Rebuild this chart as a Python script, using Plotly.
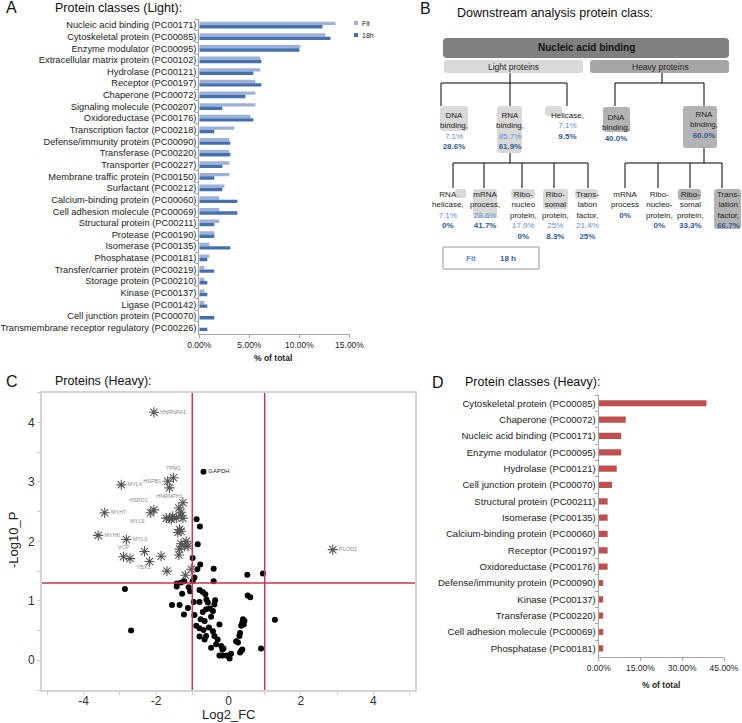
import plotly.graph_objects as go

W, H = 742, 723
def px(x): return x / W
def py(y): return 1 - y / H

FONT = "Arial, Liberation Sans, sans-serif"

# ---------------- Panel A data ----------------
classes_light = [
    "Nucleic acid binding (PC00171)", "Cytoskeletal protein (PC00085)", "Enzyme modulator (PC00095)",
    "Extracellular matrix protein (PC00102)", "Hydrolase (PC00121)", "Receptor (PC00197)",
    "Chaperone (PC00072)", "Signaling molecule (PC00207)", "Oxidoreductase (PC00176)",
    "Transcription factor (PC00218)", "Defense/immunity protein (PC00090)", "Transferase (PC00220)",
    "Transporter (PC00227)", "Membrane traffic protein (PC00150)", "Surfactant (PC00212)",
    "Calcium-binding protein (PC00060)", "Cell adhesion molecule (PC00069)", "Structural protein (PC00211)",
    "Protease (PC00190)", "Isomerase (PC00135)", "Phosphatase (PC00181)",
    "Transfer/carrier protein (PC00219)", "Storage protein (PC00210)", "Kinase (PC00137)",
    "Ligase (PC00142)", "Cell junction protein (PC00070)", "Transmembrane receptor regulatory (PC00226)",
]
fit_pct = [13.6, 12.6, 10.1, 6.1, 6.1, 5.6, 5.6, 5.6, 5.1, 3.5, 3.0, 3.0, 3.0, 3.0, 2.5,
           2.0, 2.0, 2.0, 1.5, 1.0, 1.0, 0.5, 0.5, 0.5, 0.5, 0.0, 0.0]
h18_pct = [12.3, 13.1, 10.0, 6.2, 5.4, 6.2, 4.6, 2.3, 5.4, 1.5, 3.1, 3.1, 2.3, 1.5, 2.3,
           3.8, 3.8, 1.5, 1.5, 3.1, 0.8, 1.5, 0.8, 0.8, 0.8, 1.5, 0.8]
a_ticks = [0, 5, 10, 15]
a_ticktext = ["0.00%", "5.00%", "10.00%", "15.00%"]

# ---------------- Panel B data ----------------
l2_light_labels = ["DNA<br>binding,", "RNA<br>binding,", "Helicase,"]
l2_light_fit = ["7.1%", "85.7%", "7.1%"]
l2_light_18h = ["28.6%", "61.9%", "9.5%"]
l2_heavy_labels = ["DNA<br>binding,", "RNA<br>binding,"]
l2_heavy_pct = ["40.0%", "60.0%"]
l3_light_labels = ["RNA<br>helicase,", "mRNA<br>process,", "Ribo-<br>nucleo<br>protein,",
                   "Ribo-<br>somal<br>protein,", "Trans-<br>lation<br>factor,"]
l3_light_fit = ["7.1%", "28.6%", "17.9%", "25%", "21.4%"]
l3_light_18h = ["0%", "41.7%", "0%", "8.3%", "25%"]
l3_heavy_labels = ["mRNA<br>process", "Ribo-<br>nucleo-<br>protein,", "Ribo-<br>somal<br>protein,",
                   "Trans-<br>lation<br>factor,"]
l3_heavy_pct = ["0%", "0%", "33.3%", "66.7%"]

# ---------------- Panel C data ----------------
sig_x = [-2.06, -1.52, -1.68, -1.63, -2.96, -2.06, -2.15, -3.42, -3.60, -2.82, -2.90, -2.72, 2.88,
         -1.26, -1.37, -1.31, -1.31, -1.26, -1.44, -1.54, -1.63, -1.72, -1.58, -1.35, -1.40, -1.31,
         -1.17, -1.31, -1.35, -1.21, -1.12, -1.37, -1.86, -2.32, -2.18, -1.70, -1.19, -1.03]
sig_y = [4.17, 3.07, 3.01, 2.90, 2.95, 2.53, 2.48, 2.48, 2.10, 2.03, 1.74, 1.71, 1.86,
         2.65, 2.56, 2.49, 2.43, 2.39, 2.39, 2.42, 2.39, 2.39, 2.37, 2.20, 2.15, 2.17,
         2.00, 1.96, 1.87, 1.92, 1.92, 1.77, 1.75, 1.83, 1.66, 1.50, 1.43, 1.53]
sig_labels = ["HNRNPA1", "TPM1", "HSPB1", "HNRNPH1", "MYL4", "HSPD1", "MYL9", "MYH7", "MYH6",
              "MYL3", "VCP", "YBX1", "PLOD2"]
sig_label_pos = ["middle right", "top center", "middle left", "bottom center", "middle right",
                 "top left", "bottom left", "middle right", "middle right", "middle right",
                 "top center", "bottom right", "middle right"]
ns_x = [-0.88, -0.79, -0.85, -0.99, -0.78, -0.86, -0.41, -0.41, -0.94, -0.99, -1.22, -1.31, -1.43,
        -1.43, -2.86, 0.52, 0.95, -1.10, -1.06, -1.28, -0.80, -0.71, -0.64, 0.53, 0.60, -0.96,
        -0.80, -0.61, -0.57, -0.37, -0.39, -1.56, -1.35, -1.12, -0.71, -0.62, -0.52, -0.43, -0.48,
        -0.94, -1.23, -0.77, -0.66, -0.89, -0.80, -0.69, -0.54, -0.43, -0.62, -0.80, -0.66, -0.39,
        -0.30, -0.25, -0.48, -0.34, -0.20, -0.17, -0.14, -0.25, -0.16, -0.05, 0.03, 0.07, 0.21,
        0.26, 0.32, 0.35, 0.38, 0.30, 0.32, 0.35, 0.38, 0.40, 0.42, 0.44, 0.90, 1.28, -2.69]
ns_y = [2.37, 2.25, 1.95, 1.72, 1.61, 1.53, 1.54, 1.33, 1.39, 1.33, 1.33, 1.31, 1.29,
        1.24, 1.20, 1.44, 1.46, 1.23, 1.16, 1.12, 1.18, 1.15, 1.11, 1.09, 1.06, 0.98,
        0.98, 1.02, 0.97, 1.01, 0.94, 0.93, 0.93, 0.88, 0.81, 0.86, 0.87, 0.83, 0.73,
        0.76, 0.77, 0.69, 0.66, 0.58, 0.54, 0.51, 0.55, 0.49, 0.41, 0.40, 0.35, 0.41,
        0.35, 0.60, 0.21, 0.27, 0.24, 0.18, 0.20, 0.08, 0.08, 0.08, 0.03, 0.11, 0.32,
        0.30, 0.13, 0.16, 0.18, 0.41, 0.46, 0.58, 0.63, 0.69, 0.60, 0.66, 0.20, 0.68, 0.50]
gapdh_x, gapdh_y = [-0.69], [3.17]
fc_cut = [-1, 1]
p_cut = 1.3

# ---------------- Panel D data ----------------
classes_heavy = [
    "Cytoskeletal protein (PC00085)", "Chaperone (PC00072)", "Nucleic acid binding (PC00171)",
    "Enzyme modulator (PC00095)", "Hydrolase (PC00121)", "Cell junction protein (PC00070)",
    "Structural protein (PC00211)", "Isomerase (PC00135)", "Calcium-binding protein (PC00060)",
    "Receptor (PC00197)", "Oxidoreductase (PC00176)", "Defense/immunity protein (PC00090)",
    "Kinase (PC00137)", "Transferase (PC00220)", "Cell adhesion molecule (PC00069)",
    "Phosphatase (PC00181)",
]
heavy_pct = [38.7, 9.7, 8.1, 8.1, 6.5, 4.8, 3.2, 3.2, 3.2, 3.2, 3.2, 1.6, 1.6, 1.6, 1.6, 1.6]
d_ticks = [0, 15, 30, 45]
d_ticktext = ["0.00%", "15.00%", "30.00%", "45.00%"]

# ---------------- styles ----------------
FIT_C = "#9cb0da"
H18_C = "#4470ad"
RED_BAR = "#c0504d"
LB = "#5b8ed6"
DB = "#2f5a97"

fig = go.Figure()

# Panel A
fig.add_trace(go.Bar(y=classes_light, x=fit_pct, orientation="h", name="Fit",
                     marker=dict(color=FIT_C, line=dict(width=0)), xaxis="x", yaxis="y",
                     showlegend=False))
fig.add_trace(go.Bar(y=classes_light, x=h18_pct, orientation="h", name="18h",
                     marker=dict(color=H18_C, line=dict(width=0)), xaxis="x", yaxis="y",
                     showlegend=False))

# Panel C
sig_text = sig_labels + [""] * (len(sig_x) - len(sig_labels))
sig_pos = sig_label_pos + ["middle right"] * (len(sig_x) - len(sig_labels))
fig.add_trace(go.Scatter(x=ns_x, y=ns_y, mode="markers", xaxis="x2", yaxis="y2",
                         marker=dict(symbol="circle", size=6, color="black"), showlegend=False))
fig.add_trace(go.Scatter(x=gapdh_x, y=gapdh_y, mode="markers+text", text=["GAPDH"],
                         textposition="middle right", xaxis="x2", yaxis="y2",
                         textfont=dict(size=6, color="#222", family=FONT),
                         marker=dict(symbol="circle", size=6, color="black"), showlegend=False))
fig.add_trace(go.Scatter(x=sig_x, y=sig_y, mode="markers+text", text=sig_text,
                         textposition=sig_pos, xaxis="x2", yaxis="y2",
                         textfont=dict(size=5.5, color="#8a8a8a", family=FONT),
                         marker=dict(symbol="asterisk-open", size=8.5, color="#555555",
                                     line=dict(width=1.1, color="#555555")), showlegend=False))

# Panel D
fig.add_trace(go.Bar(y=classes_heavy, x=heavy_pct, orientation="h", name="Heavy",
                     marker=dict(color=RED_BAR, line=dict(width=0)), xaxis="x3", yaxis="y3",
                     width=0.38, offset=-0.19, showlegend=False))

shapes = []
annotations = []

def ann(x, y, text, size=8, color="#222", xanchor="center", yanchor="middle", bold=False, **kw):
    t = f"<b>{text}</b>" if bold else text
    annotations.append(dict(x=px(x), y=py(y), xref="paper", yref="paper", text=t, showarrow=False,
                            xanchor=xanchor, yanchor=yanchor,
                            font=dict(size=size, color=color, family=FONT), **kw))

def rrect(x0, y0, x1, y1, color, r=3, line=None):
    X0, X1 = px(x0), px(x1)
    Y0, Y1 = py(y0), py(y1)
    rx, ry = r / W, r / H
    path = (f"M{X0+rx},{Y0} L{X1-rx},{Y0} Q{X1},{Y0} {X1},{Y0-ry} L{X1},{Y1+ry} "
            f"Q{X1},{Y1} {X1-rx},{Y1} L{X0+rx},{Y1} Q{X0},{Y1} {X0},{Y1+ry} "
            f"L{X0},{Y0-ry} Q{X0},{Y0} {X0+rx},{Y0} Z")
    shapes.append(dict(type="path", path=path, xref="paper", yref="paper", fillcolor=color,
                       line=line or dict(width=0), layer="below"))

def seg(x0, y0, x1, y1, color="black", width=1):
    shapes.append(dict(type="line", x0=px(x0), y0=py(y0), x1=px(x1), y1=py(y1),
                       xref="paper", yref="paper", line=dict(color=color, width=width)))

# ---- Panel letters and titles ----
ann(4, 8, "A", size=16, xanchor="left", color="#111")
ann(53, 8, "Protein classes (Light):", size=12.5, xanchor="left", color="#111")
ann(418, 9, "B", size=16, xanchor="left", color="#111")
ann(455, 13, "Downstream analysis protein class:", size=12.5, xanchor="left", color="#111")
ann(4, 381, "C", size=16, xanchor="left", color="#111")
ann(53, 381, "Proteins (Heavy):", size=12.5, xanchor="left", color="#111")
ann(430, 382, "D", size=16, xanchor="left", color="#111")
ann(463, 382, "Protein classes (Heavy):", size=12.5, xanchor="left", color="#111")

# ---- Panel A legend & axis title ----
shapes.append(dict(type="rect", x0=px(354), x1=px(358), y0=py(21), y1=py(25), xref="paper",
                   yref="paper", fillcolor=FIT_C, line=dict(width=0)))
shapes.append(dict(type="rect", x0=px(354), x1=px(358), y0=py(33), y1=py(37), xref="paper",
                   yref="paper", fillcolor=H18_C, line=dict(width=0)))
ann(360, 23, "Fit", size=7, xanchor="left")
ann(360, 35, "18h", size=7, xanchor="left")
ann(273, 358, "% of total", size=8.5, bold=True)

# ---- Panel C axis titles ----
ann(228, 714, "Log2_FC", size=13, color="#222")
annotations.append(dict(x=px(13), y=py(540), xref="paper", yref="paper", text="-Log10_P",
                        showarrow=False, textangle=-90, xanchor="center", yanchor="middle",
                        font=dict(size=13, color="#222", family=FONT)))

# ---- Panel D axis title ----
ann(661, 685, "% of total", size=8.5, bold=True)

# ---- Panel B diagram ----
def lp(s): return f"<span style='color:{LB}'>{s}</span>"
def dp(s): return f"<b><span style='color:{DB}'>{s}</span></b>"

rrect(443, 38, 729, 58, "#808080", r=4)
ann(586, 48, "Nucleic acid binding", size=10, bold=True, color="#111")
rrect(444, 60, 583, 73, "#d9d9d9", r=3)
ann(513, 66.5, "Light proteins", size=8.5, color="#222")
rrect(590, 60, 729, 73, "#a6a6a6", r=3)
ann(660, 66.5, "Heavy proteins", size=8.5, color="#222")

# connectors level 1->2
seg(510, 73, 510, 83); seg(441, 83, 567, 83)
for xx in (441, 510, 567):
    seg(xx, 83, xx, 106)
seg(662, 73, 662, 83); seg(615, 83, 704, 83)
for xx in (615, 704):
    seg(xx, 83, xx, 106)

# level 2 boxes
rrect(440, 106, 468, 131, "#d9d9d9")
rrect(497, 106, 522, 153, "#d9d9d9")
rrect(545, 106, 562, 116, "#d9d9d9")
rrect(603, 107, 630, 132, "#b3b3b3")
rrect(683, 106, 717, 148, "#b3b3b3")

LS = 10.5
l2_light_x = [454, 510, 567]
l2_light_first = [115, 115, 115]
for lab, f, h, x, y1 in zip(l2_light_labels, l2_light_fit, l2_light_18h, l2_light_x, l2_light_first):
    lines = lab.split("<br>") + [lp(f), dp(h)]
    n = len(lines)
    ann(x, y1 + (n - 1) / 2 * LS, "<br>".join(lines), size=8, color="#222")

l2_heavy_x = [616, 704]
l2_heavy_first = [117, 114]
for lab, p, x, y1 in zip(l2_heavy_labels, l2_heavy_pct, l2_heavy_x, l2_heavy_first):
    lines = lab.split("<br>") + [dp(p)]
    n = len(lines)
    ann(x, y1 + (n - 1) / 2 * LS, "<br>".join(lines), size=8, color="#222")

# connectors level 2->3
seg(510, 153, 510, 163); seg(453, 163, 588, 163)
for xx in (453, 484, 522, 554, 588):
    seg(xx, 163, xx, 188)
seg(704, 148, 704, 163); seg(625, 163, 722, 163)
for xx in (625, 658, 690, 722):
    seg(xx, 163, xx, 188)

# level 3 boxes
rrect(455, 189, 466, 198, "#d9d9d9", r=2)
rrect(473, 189, 497, 218, "#d9d9d9")
rrect(511, 189, 535, 199, "#d9d9d9")
rrect(543, 189, 568, 209, "#d9d9d9")
rrect(575, 189, 598, 199, "#d9d9d9")
rrect(678, 189, 701, 200, "#b3b3b3")
rrect(714, 189, 741, 229, "#b3b3b3")

l3_light_x = [448, 485, 523, 555, 587]
for lab, f, h, x in zip(l3_light_labels, l3_light_fit, l3_light_18h, l3_light_x):
    lines = lab.split("<br>") + [lp(f), dp(h)]
    n = len(lines)
    ann(x, 194 + (n - 1) / 2 * LS, "<br>".join(lines), size=8, color="#222")

l3_heavy_x = [625, 659, 690, 728]
for lab, p, x in zip(l3_heavy_labels, l3_heavy_pct, l3_heavy_x):
    lines = lab.split("<br>") + [dp(p)]
    n = len(lines)
    ann(x, 194 + (n - 1) / 2 * LS, "<br>".join(lines), size=8, color="#222")

# Fit / 18 h key box
shapes.append(dict(type="rect", x0=px(443), x1=px(539), y0=py(247), y1=py(269), xref="paper",
                   yref="paper", fillcolor="white", line=dict(color="#9a9a9a", width=1)))
ann(471, 258.5, f"<b><span style='color:{LB}'>Fit</span></b>", size=8)
ann(508, 258.5, dp("18 h"), size=8)

# ---- Panel C threshold lines ----
for v in fc_cut:
    shapes.append(dict(type="line", xref="x2", yref="y2", x0=v, x1=v, y0=-0.5, y1=4.5,
                       line=dict(color="#c8374a", width=1.5)))
shapes.append(dict(type="line", xref="x2", yref="y2", x0=-5.15, x1=5.15, y0=p_cut, y1=p_cut,
                   line=dict(color="#c8374a", width=1.5)))

# ---------------- layout ----------------
xt = list(range(-5, 6))
xtt = [str(v) if v % 2 == 0 else "" for v in xt]
yt = [v / 2 for v in range(-1, 10)]
ytt = [str(int(v)) if v == int(v) else "" for v in yt]

common = dict(automargin=False, showgrid=False, zeroline=False, fixedrange=True)

fig.update_layout(
    template="none",
    width=W, height=H, autosize=False,
    margin=dict(l=0, r=0, t=0, b=0, pad=0, autoexpand=False),
    paper_bgcolor="white", plot_bgcolor="rgba(0,0,0,0)",
    barmode="group", bargap=0.42, bargroupgap=0,
    font=dict(family=FONT, color="#222"),
    showlegend=False,
    xaxis=dict(domain=[px(199.3), px(349.5)], range=[0, 15], tickvals=a_ticks, ticktext=a_ticktext,
               showline=True, linecolor="#a6a6a6", linewidth=1, ticks="outside", ticklen=3,
               tickcolor="#a6a6a6", tickfont=dict(size=8.5, color="#222"), anchor="y", **common),
    yaxis=dict(domain=[py(333.5), py(19.2)], autorange="reversed", type="category",
               showline=True, linecolor="#a6a6a6", linewidth=1, ticks="outside", ticklen=3,
               tickcolor="#a6a6a6", tickson="boundaries",
               tickfont=dict(size=9.3, color="#222"), anchor="x", **common),
    xaxis2=dict(domain=[px(42), px(415)], range=[-5.15, 5.15], tickvals=xt, ticktext=xtt,
                showline=True, mirror=True, linecolor="#d4d4d4", linewidth=2, ticks="outside",
                ticklen=3, tickcolor="#cccccc", ticklabelstandoff=-4,
                tickfont=dict(size=12, color="#333"), anchor="y2", **common),
    yaxis2=dict(domain=[py(690), py(392.7)], range=[-0.5, 4.5], tickvals=yt, ticktext=ytt,
                showline=True, mirror=True, linecolor="#d4d4d4", linewidth=2, ticks="outside",
                ticklen=3, tickcolor="#cccccc",
                tickfont=dict(size=12, color="#333"), anchor="x2", **common),
    xaxis3=dict(domain=[px(598.7), px(724)], range=[0, 45], tickvals=d_ticks, ticktext=d_ticktext,
                showline=True, linecolor="#a6a6a6", linewidth=1, ticks="outside", ticklen=3,
                tickcolor="#a6a6a6", tickfont=dict(size=8.5, color="#222"), anchor="y3", **common),
    yaxis3=dict(domain=[py(656.5), py(395.1)], autorange="reversed", type="category",
                showline=True, linecolor="#a6a6a6", linewidth=1, ticks="outside", ticklen=3,
                tickcolor="#a6a6a6", tickson="boundaries",
                tickfont=dict(size=9.6, color="#222"), anchor="x3", **common),
    shapes=shapes,
    annotations=annotations,
)

fig.write_html("out.html", config={"displayModeBar": False},
               post_script="document.body.style.margin='0';document.body.style.overflow='hidden';")
